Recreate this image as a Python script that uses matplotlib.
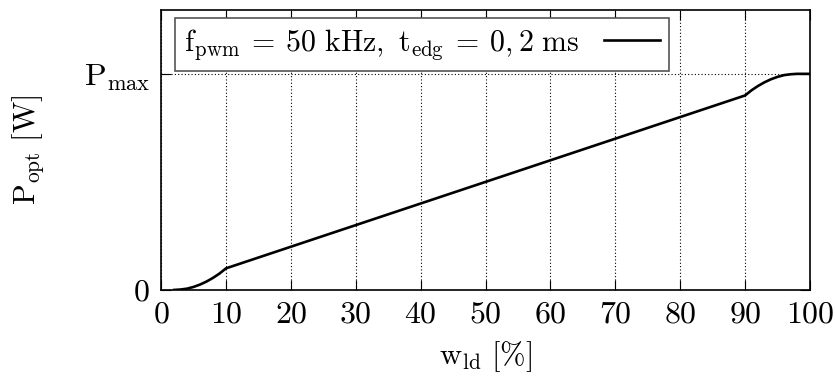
import matplotlib
matplotlib.use("Agg")
import matplotlib.pyplot as plt

plt.rcParams['font.family'] = 'serif'
plt.rcParams['font.serif'] = ['cmr10', 'DejaVu Serif']
plt.rcParams['mathtext.fontset'] = 'cm'
plt.rcParams['axes.formatter.use_mathtext'] = True

# duty cycle [%] and normalised optical power (1 = Pmax)
w_ld = [2, 3, 4, 5, 6, 7, 8, 9, 10, 20, 30, 40, 50, 60, 70, 80, 90,
        91, 92, 93, 94, 95, 96, 97, 98, 100]
p_opt = [0.0, 0.002, 0.006, 0.014, 0.025, 0.039, 0.056, 0.076, 0.1,
         0.2, 0.3, 0.4, 0.5, 0.6, 0.7, 0.8, 0.9,
         0.924, 0.944, 0.961, 0.975, 0.986, 0.994, 0.998, 1.0, 1.0]

x_ticks = [0, 10, 20, 30, 40, 50, 60, 70, 80, 90, 100]
y_ticks = [0, 1]
y_ticklabels = ['0', r'$\mathrm{P_{max}}$']

fig = plt.figure(figsize=(8.35, 3.8), dpi=100)
ax = fig.add_axes([0.193, 0.237, 0.777, 0.737])

ax.plot(w_ld, p_opt, color='black', lw=1.9,
        label=r'$\mathrm{f_{pwm}}\:=\:50\ \mathrm{kHz},\ \mathrm{t_{edg}}\:=\:0,2\ \mathrm{ms}$')

ax.set_xlim(0, 100)
ax.set_ylim(0, 1.296)
ax.set_xticks(x_ticks)
ax.set_yticks(y_ticks)
ax.set_yticklabels(y_ticklabels)
ax.tick_params(axis='both', direction='in', top=True, right=True, length=7,
               labelsize=23, pad=8)
ax.grid(True, linestyle=(0, (1, 2)), color='black', lw=0.8)

for s in ax.spines.values():
    s.set_linewidth(1.2)

ax.set_xlabel(r'$\mathrm{w_{ld}}\ [\%]$', fontsize=22, labelpad=8)
ax.set_ylabel(r'$\mathrm{P_{opt}}\ [\mathrm{W}]$', fontsize=22, labelpad=26)

leg = ax.legend(loc='upper left', bbox_to_anchor=(0.022, 0.972), fontsize=21.5,
                markerfirst=False, fancybox=False, framealpha=1,
                edgecolor='#555555', handlelength=1.9, borderpad=0.3,
                borderaxespad=0)
leg.get_frame().set_linewidth(1.2)

fig.savefig('out.png', dpi=100)
